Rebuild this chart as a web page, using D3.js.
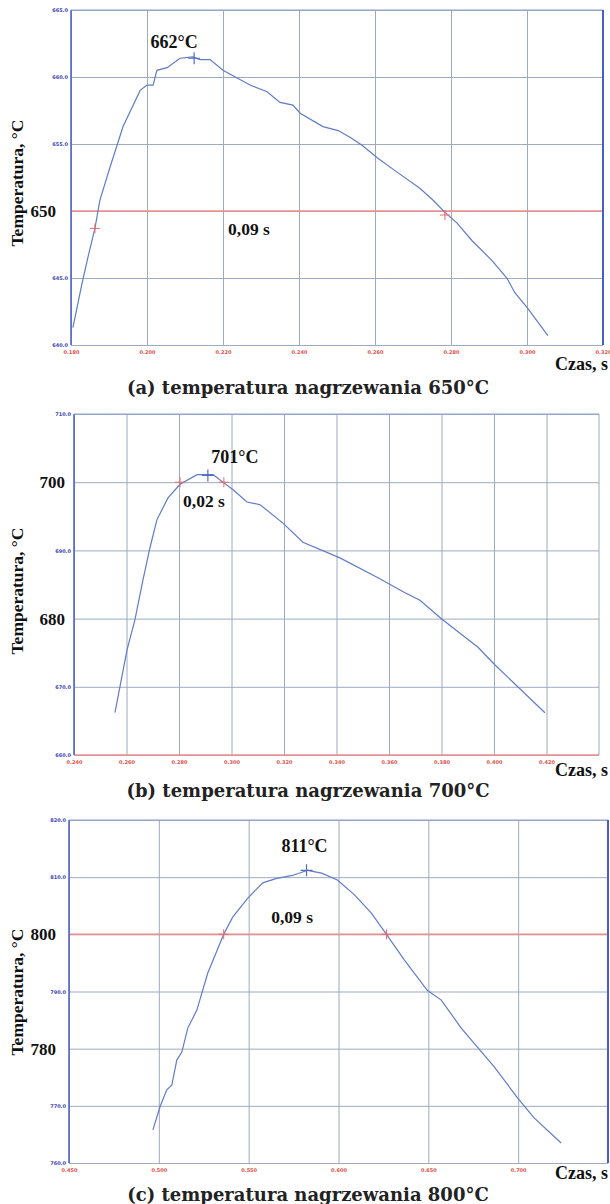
<!DOCTYPE html>
<html>
<head>
<meta charset="utf-8">
<script src="https://cdn.jsdelivr.net/npm/d3@7"></script>
<style>
  body { margin: 0; background: #fff; }
</style>
</head>
<body>
<script>
// ---- data ----

// (a) 650°C
const timeA = [0.1805, 0.1829, 0.1845, 0.1863, 0.1871, 0.1876, 0.1903, 0.1937, 0.1982, 0.2000, 0.2016,
  0.2026, 0.2053, 0.2087, 0.2121, 0.2139, 0.2166, 0.2200, 0.2271, 0.2316, 0.2350, 0.2384, 0.2403,
  0.2463, 0.2503, 0.2534, 0.2566, 0.2605, 0.2658, 0.2718, 0.2753, 0.2784, 0.2816, 0.2855, 0.2908,
  0.2947, 0.2968, 0.3000, 0.3055];
const tempA = [641.3, 644.6, 646.6, 648.7, 650.0, 650.8, 653.3, 656.3, 659.0, 659.4, 659.4,
  660.5, 660.7, 661.4, 661.5, 661.3, 661.3, 660.5, 659.4, 658.9, 658.1, 657.9, 657.3,
  656.3, 656.0, 655.5, 654.9, 654.0, 652.9, 651.7, 650.8, 649.9, 649.1, 647.8, 646.3,
  645.0, 643.9, 642.8, 640.7];
const xDomainA = [0.18, 0.32];
const xTicksA = [0.18, 0.20, 0.22, 0.24, 0.26, 0.28, 0.30, 0.32];
const yTicksA = [640, 645, 650, 655, 660, 665];
const bigTicksA = [650];
const crossA = [[0.1863, 648.7], [0.2784, 649.7]];
const peakA = [0.2124, 661.4];

// (b) 700°C
const timeB = [0.2556, 0.2602, 0.2632, 0.2663, 0.2690, 0.2716, 0.2758, 0.2804, 0.2869, 0.2930,
  0.2971, 0.3006, 0.3059, 0.3109, 0.3196, 0.3272, 0.3413, 0.3558, 0.3661, 0.3718, 0.3802,
  0.3939, 0.4004, 0.4194];
const tempB = [666.2, 675.4, 679.8, 685.7, 690.5, 694.5, 697.7, 699.7, 701.1, 701.1,
  699.9, 698.9, 697.1, 696.7, 694.0, 691.2, 688.9, 686.0, 683.8, 682.7, 679.9,
  675.8, 673.2, 666.2];
const xDomainB = [0.24, 0.44];
const xTicksB = [0.24, 0.26, 0.28, 0.30, 0.32, 0.34, 0.36, 0.38, 0.40, 0.42];
const yTicksB = [660, 670, 680, 690, 700, 710];
const bigTicksB = [680, 700];
const crossB = [[0.2804, 700], [0.2971, 700]];
const peakB = [0.2910, 701.0];

// (c) 800°C
const timeC = [0.4967, 0.5006, 0.5044, 0.5072, 0.5100, 0.5128, 0.5161, 0.5211, 0.5228, 0.5272,
  0.5361, 0.5411, 0.5494, 0.5578, 0.5656, 0.5744, 0.5828, 0.5906, 0.5994, 0.6089, 0.6183,
  0.6267, 0.6367, 0.6494, 0.6572, 0.6683, 0.6772, 0.6867, 0.6994, 0.7089, 0.7239];
const tempC = [765.8, 769.8, 772.8, 773.6, 778.0, 779.4, 783.6, 786.7, 788.5, 793.2,
  800.0, 803.0, 806.3, 809.0, 809.8, 810.3, 811.2, 810.7, 809.5, 806.9, 803.7,
  800.0, 795.5, 790.2, 788.5, 783.6, 780.3, 776.8, 771.5, 767.9, 763.5];
const xDomainC = [0.45, 0.75];
const xTicksC = [0.45, 0.50, 0.55, 0.60, 0.65, 0.70];
const yTicksC = [760, 770, 780, 790, 800, 810, 820];
const bigTicksC = [780, 800];
const crossC = [[0.5361, 800], [0.6267, 800]];
const peakC = [0.5822, 811.2];

const peakLabels = ['662°C', '701°C', '811°C'];
const spanLabels = ['0,09 s', '0,02 s', '0,09 s'];
const captions = [
  '(a) temperatura nagrzewania 650°C',
  '(b) temperatura nagrzewania 700°C',
  '(c) temperatura nagrzewania 800°C',
];

// ---- layout ----
const width = 610;
const height = 1204;

const svg = d3
  .select('body')
  .append('svg')
  .attr('width', width)
  .attr('height', height)
  .style('display', 'block');

const panels = [
  {
    time: timeA, temp: tempA, xDomain: xDomainA, xTicks: xTicksA, yTicks: yTicksA, big: bigTicksA,
    cross: crossA, peak: peakA, level: 650,
    left: 71, right: 603, top: 10, bottom: 345, bigX: 56,
    titleMid: 183, czasY: 370, captionY: 394,
    peakDx: -20, peakDy: -10, spanDx: -21, spanDy: 24,
    redLevel: true, redBottom: false, blueRight: true,
  },
  {
    time: timeB, temp: tempB, xDomain: xDomainB, xTicks: xTicksB, yTicks: yTicksB, big: bigTicksB,
    cross: crossB, peak: peakB, level: 700,
    left: 74, right: 599, top: 414, bottom: 755, bigX: 65,
    titleMid: 591, czasY: 776, captionY: 797,
    peakDx: 27, peakDy: -12, spanDx: 2, spanDy: 25,
    redLevel: false, redBottom: true, blueRight: false,
  },
  {
    time: timeC, temp: tempC, xDomain: xDomainC, xTicks: xTicksC, yTicks: yTicksC, big: bigTicksC,
    cross: crossC, peak: peakC, level: 800,
    left: 69, right: 608, top: 820, bottom: 1163, bigX: 56,
    titleMid: 992, czasY: 1179, captionY: 1201,
    peakDx: -2, peakDy: -18, spanDx: -13, spanDy: -11,
    redLevel: true, redBottom: false, blueRight: true,
  },
];

const gridColor = '#9eaac0';
const axisBlue = '#4a5cc8';
const curveColor = '#5f7cc6';
const redLine = '#f08c8c';
const serif = "'Liberation Serif', 'Times New Roman', serif";

panels.forEach((p, i) => {
  const x = d3.scaleLinear().domain(p.xDomain).range([p.left, p.right]);
  const y = d3.scaleLinear().domain(d3.extent(p.yTicks)).range([p.bottom, p.top]);
  const g = svg.append('g');

  // vertical grid + x tick labels
  const xAxis = g
    .append('g')
    .attr('transform', `translate(0,${p.bottom})`)
    .call(
      d3.axisBottom(x)
        .tickValues(p.xTicks)
        .tickSize(-(p.bottom - p.top))
        .tickPadding(5)
        .tickFormat(d3.format('.3f'))
    );
  xAxis.select('.domain').remove();
  xAxis.selectAll('line').attr('stroke', gridColor).attr('stroke-width', 1);
  xAxis
    .selectAll('text')
    .attr('fill', '#e0504a')
    .style('font-family', 'DejaVu Sans')
    .style('font-weight', 'bold')
    .style('font-size', '5px');

  // horizontal grid + y tick labels
  const yAxis = g
    .append('g')
    .attr('transform', `translate(${p.left},0)`)
    .call(
      d3.axisLeft(y)
        .tickValues(p.yTicks)
        .tickSize(-(p.right - p.left))
        .tickPadding(3)
        .tickFormat(d3.format('.1f'))
    );
  yAxis.select('.domain').remove();
  yAxis.selectAll('line').attr('stroke', gridColor).attr('stroke-width', 1);
  yAxis
    .selectAll('text')
    .attr('fill', '#3c46b8')
    .style('font-family', 'DejaVu Sans')
    .style('font-weight', 'bold')
    .style('font-size', '5px');

  // big black labels on some ticks
  yAxis
    .selectAll('.tick')
    .filter((d) => p.big.includes(d))
    .select('text')
    .text((d) => d)
    .attr('x', p.bigX - p.left)
    .attr('fill', '#111')
    .style('font-family', serif)
    .style('font-size', '17px');

  // level line
  if (p.redLevel) {
    g.append('line')
      .attr('x1', p.left).attr('x2', p.right)
      .attr('y1', y(p.level)).attr('y2', y(p.level))
      .attr('stroke', redLine).attr('stroke-width', 1.5);
  }
  if (p.redBottom) {
    g.append('line')
      .attr('x1', p.left).attr('x2', p.right)
      .attr('y1', p.bottom).attr('y2', p.bottom)
      .attr('stroke', redLine).attr('stroke-width', 1.5);
  }

  // frame lines
  g.append('line')
    .attr('x1', p.left).attr('x2', p.left)
    .attr('y1', p.top).attr('y2', p.bottom)
    .attr('stroke', axisBlue).attr('stroke-width', 1.5);
  g.append('line')
    .attr('x1', p.left).attr('x2', p.right)
    .attr('y1', p.top).attr('y2', p.top)
    .attr('stroke', '#8fa0d0').attr('stroke-width', 1);
  g.append('line')
    .attr('x1', p.right).attr('x2', p.right)
    .attr('y1', p.top).attr('y2', p.bottom)
    .attr('stroke', p.blueRight ? axisBlue : gridColor)
    .attr('stroke-width', p.blueRight ? 2 : 1);

  // curve
  const pts = p.time.map((t, k) => [t, p.temp[k]]);
  g.append('path')
    .datum(pts)
    .attr('fill', 'none')
    .attr('stroke', curveColor)
    .attr('stroke-width', 1.2)
    .attr('d', d3.line().x((d) => x(d[0])).y((d) => y(d[1])));

  // markers
  const plus = (d, s) => `M${x(d[0]) - s},${y(d[1])}h${2 * s}M${x(d[0])},${y(d[1]) - s}v${2 * s}`;
  g.selectAll('.cross')
    .data(p.cross)
    .enter()
    .append('path')
    .attr('d', (d) => plus(d, 5))
    .attr('stroke', '#e86a6a')
    .attr('stroke-width', 1);
  g.append('path')
    .attr('d', plus(p.peak, 6))
    .attr('stroke', '#4f6cc8')
    .attr('stroke-width', 1.2);

  // annotations
  g.append('text')
    .attr('x', x(p.peak[0]) + p.peakDx)
    .attr('y', y(p.peak[1]) + p.peakDy)
    .attr('text-anchor', 'middle')
    .style('font-family', serif)
    .style('font-weight', 'bold')
    .style('font-size', '18px')
    .attr('fill', '#111')
    .text(peakLabels[i]);
  const midT = (p.cross[0][0] + p.cross[1][0]) / 2;
  g.append('text')
    .attr('x', x(midT) + p.spanDx)
    .attr('y', y(p.level) + p.spanDy)
    .attr('text-anchor', 'middle')
    .style('font-family', serif)
    .style('font-weight', 'bold')
    .style('font-size', '17.5px')
    .attr('fill', '#111')
    .text(spanLabels[i]);

  // axis titles
  g.append('text')
    .attr('transform', `translate(23,${p.titleMid}) rotate(-90)`)
    .attr('text-anchor', 'middle')
    .style('font-family', serif)
    .style('font-weight', 'bold')
    .style('font-size', '17.5px')
    .attr('fill', '#111')
    .text('Temperatura, °C');
  g.append('text')
    .attr('x', 555)
    .attr('y', p.czasY)
    .style('font-family', serif)
    .style('font-weight', 'bold')
    .style('font-size', '18px')
    .attr('fill', '#111')
    .text('Czas, s');

  // caption
  g.append('text')
    .attr('x', 308)
    .attr('y', p.captionY)
    .attr('text-anchor', 'middle')
    .style('font-family', "'DejaVu Serif', serif")
    .style('font-weight', 'bold')
    .style('font-size', '18px')
    .attr('fill', '#222')
    .text(captions[i]);
});
</script>
</body>
</html>
